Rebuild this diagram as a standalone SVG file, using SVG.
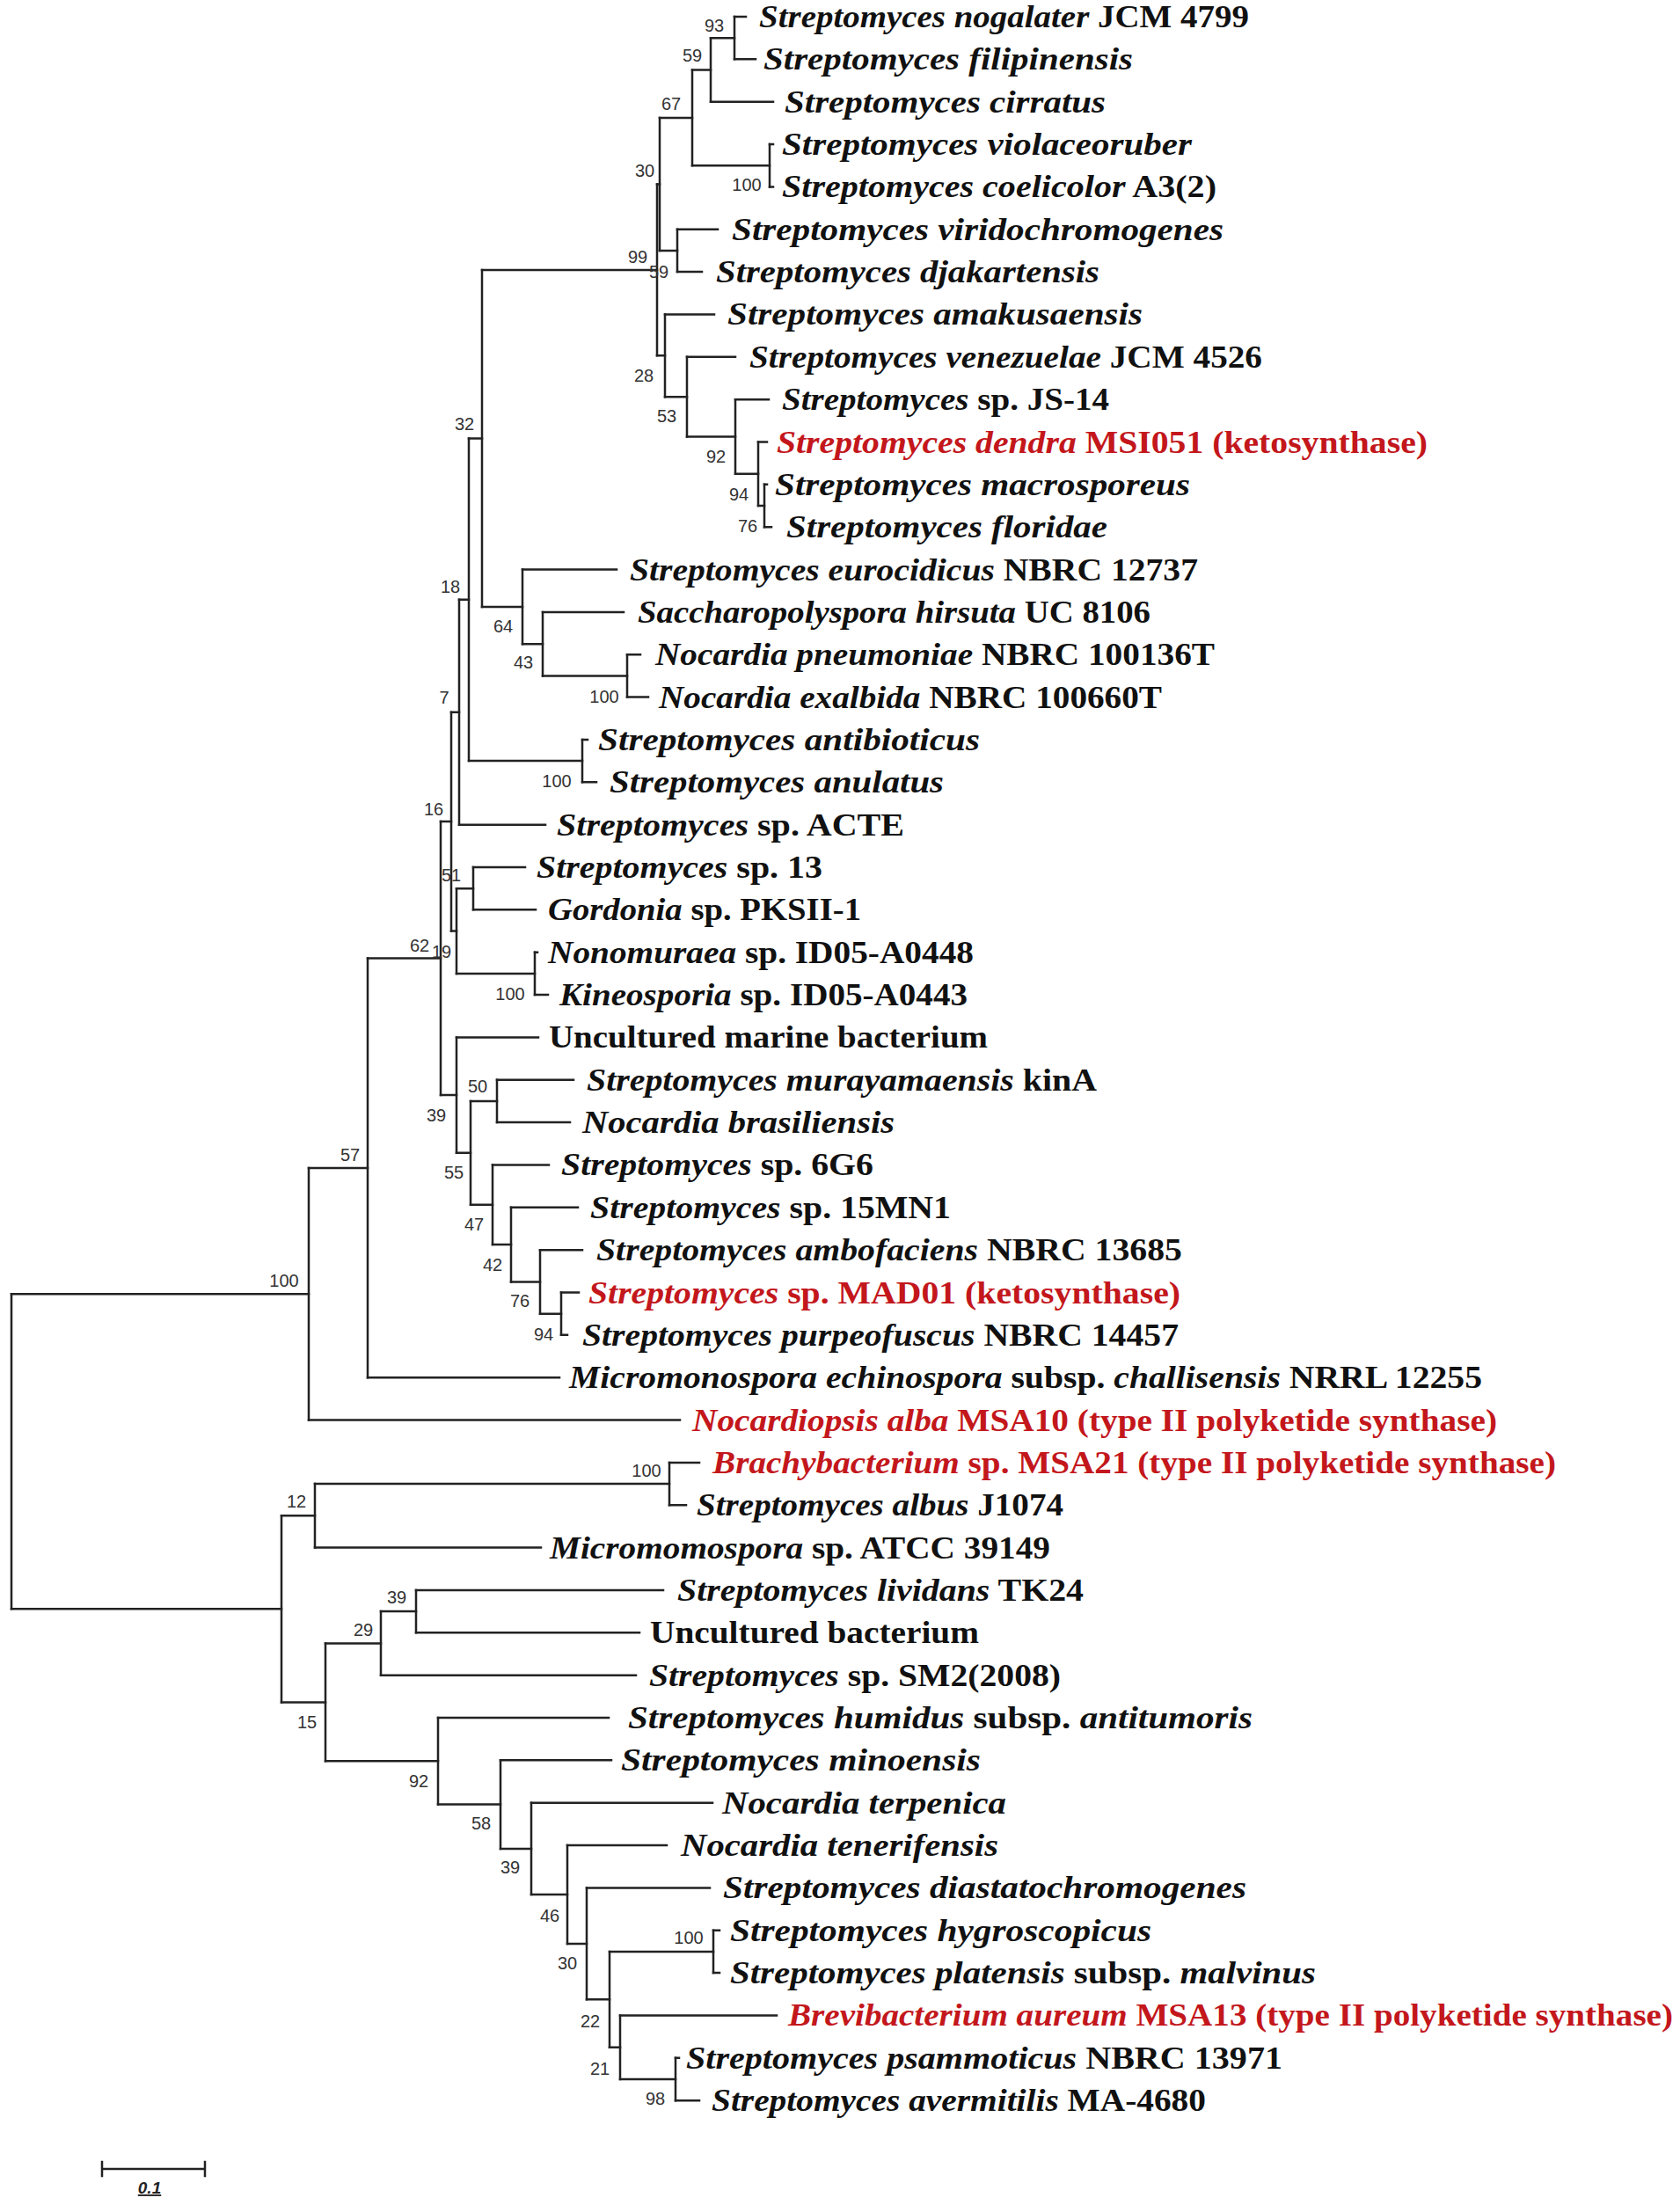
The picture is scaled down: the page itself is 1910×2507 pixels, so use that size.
<svg xmlns="http://www.w3.org/2000/svg" width="1910" height="2507" viewBox="0 0 1910 2507">
<style>
.lf{font-family:"Liberation Serif","Times New Roman",serif;font-size:35px;font-weight:bold;fill:#111}
.i{font-style:italic}
.red{fill:#c3171c}
.bs{font-family:"Liberation Sans",Arial,sans-serif;font-size:20px;fill:#333;text-anchor:middle}
.br{fill:none;stroke:#222;stroke-width:2.5;stroke-linecap:square}
</style>
<rect width="1910" height="2507" fill="#fff"/>
<g id="connectors">
<path class="br" d="M835 19V67.35M808 43.2V115.7M875 164.05V212.4M787 79.5V188.2M770 260.75V309.1M750 133.9V284.9M869 550.85V599.2M862 502.5V575M836 454.15V538.8M781 405.8V496.5M756 357.45V451.2M747 209.4V404.3M713 744.25V792.6M617 695.9V768.4M594 647.55V732.2M548 306.9V689.9M662 840.95V889.3M533 498.4V865.1M522 681.8V937.65M538 986V1034.35M608 1082.7V1131.05M519 1010.2V1106.9M513 809.7V1058.5M565 1227.75V1276.1M638 1469.5V1517.85M614 1421.15V1493.7M581 1372.8V1457.4M560 1324.45V1415.1M535 1251.9V1369.8M519 1179.4V1310.8M501 934.1V1245.1M418 1089.6V1566.2M351 1327.9V1614.55M761 1662.9V1711.25M358 1687.1V1759.6M473 1807.95V1856.3M433 1832.1V1904.65M811 2194.75V2243.1M768 2339.8V2388.15M705 2291.45V2364M693 2218.9V2327.7M667 2146.4V2273.3M645 2098.05V2209.9M604 2049.7V2154M569 2001.35V2101.9M498 1953V2051.6M370 1868.4V2002.3M320 1723.3V1935.4M13 1471.2V1829.3"/>
<path class="br" d="M747 209.4H750M747 404.3H756M750 133.9H787M750 284.9H770M787 79.5H808M787 188.2H875M808 43.2H835M756 451.2H781M781 496.5H836M836 538.8H862M862 575H869M548 306.9H747M548 689.9H594M594 732.2H617M617 768.4H713M533 498.4H548M533 865.1H662M522 681.8H533M513 809.7H522M513 1058.5H519M519 1010.2H538M519 1106.9H608M501 934.1H513M501 1245.1H519M519 1310.8H535M535 1251.9H565M535 1369.8H560M560 1415.1H581M581 1457.4H614M614 1493.7H638M418 1089.6H501M351 1327.9H418M13 1471.2H351M13 1829.3H320M320 1723.3H358M320 1935.4H370M358 1687.1H761M370 1868.4H433M370 2002.3H498M433 1832.1H473M498 2051.6H569M569 2101.9H604M604 2154H645M645 2209.9H667M667 2273.3H693M693 2218.9H811M693 2327.7H705M705 2364H768"/>
<path class="br" d="M835 19H848M835 67.35H859M808 115.7H879M875 164.05H879M875 212.4H879M770 260.75H816M770 309.1H798M756 357.45H812M781 405.8H836M836 454.15H874M862 502.5H872M869 550.85H872M869 599.2H877M594 647.55H701M617 695.9H709M713 744.25H728M713 792.6H737M662 840.95H668M662 889.3H678M522 937.65H620M538 986H597M538 1034.35H609M608 1082.7H611M608 1131.05H623M519 1179.4H612M565 1227.75H652M565 1276.1H648M560 1324.45H624M581 1372.8H657M614 1421.15H662M638 1469.5H658M638 1517.85H645M418 1566.2H636M351 1614.55H773M761 1662.9H795M761 1711.25H780M358 1759.6H615M473 1807.95H754M473 1856.3H727M433 1904.65H723M498 1953H692M569 2001.35H695M604 2049.7H810M645 2098.05H758M667 2146.4H807M811 2194.75H818M811 2243.1H818M705 2291.45H883M768 2339.8H772M768 2388.15H795"/>
</g>
<g id="leaves">
<g id="leaf1"><text class="lf" x="863" y="31" textLength="557" lengthAdjust="spacingAndGlyphs"><tspan class="i">Streptomyces nogalater</tspan> JCM 4799</text></g>
<g id="leaf2"><text class="lf" x="868" y="79.35" textLength="420" lengthAdjust="spacingAndGlyphs"><tspan class="i">Streptomyces filipinensis</tspan></text></g>
<g id="leaf3"><text class="lf" x="892" y="127.7" textLength="365" lengthAdjust="spacingAndGlyphs"><tspan class="i">Streptomyces cirratus</tspan></text></g>
<g id="leaf4"><text class="lf" x="889" y="176.05" textLength="466" lengthAdjust="spacingAndGlyphs"><tspan class="i">Streptomyces violaceoruber</tspan></text></g>
<g id="leaf5"><text class="lf" x="889" y="224.4" textLength="494" lengthAdjust="spacingAndGlyphs"><tspan class="i">Streptomyces coelicolor</tspan> A3(2)</text></g>
<g id="leaf6"><text class="lf" x="832" y="272.75" textLength="559" lengthAdjust="spacingAndGlyphs"><tspan class="i">Streptomyces viridochromogenes</tspan></text></g>
<g id="leaf7"><text class="lf" x="814" y="321.1" textLength="436" lengthAdjust="spacingAndGlyphs"><tspan class="i">Streptomyces djakartensis</tspan></text></g>
<g id="leaf8"><text class="lf" x="827" y="369.45" textLength="472" lengthAdjust="spacingAndGlyphs"><tspan class="i">Streptomyces amakusaensis</tspan></text></g>
<g id="leaf9"><text class="lf" x="852" y="417.8" textLength="583" lengthAdjust="spacingAndGlyphs"><tspan class="i">Streptomyces venezuelae</tspan> JCM 4526</text></g>
<g id="leaf10"><text class="lf" x="889" y="466.15" textLength="372" lengthAdjust="spacingAndGlyphs"><tspan class="i">Streptomyces</tspan> sp. JS-14</text></g>
<g id="leaf11"><text class="lf red" x="883" y="514.5" textLength="740" lengthAdjust="spacingAndGlyphs"><tspan class="i">Streptomyces dendra</tspan> MSI051 (ketosynthase)</text></g>
<g id="leaf12"><text class="lf" x="881" y="562.85" textLength="472" lengthAdjust="spacingAndGlyphs"><tspan class="i">Streptomyces macrosporeus</tspan></text></g>
<g id="leaf13"><text class="lf" x="894" y="611.2" textLength="365" lengthAdjust="spacingAndGlyphs"><tspan class="i">Streptomyces floridae</tspan></text></g>
<g id="leaf14"><text class="lf" x="716" y="659.55" textLength="646" lengthAdjust="spacingAndGlyphs"><tspan class="i">Streptomyces eurocidicus</tspan> NBRC 12737</text></g>
<g id="leaf15"><text class="lf" x="725" y="707.9" textLength="583" lengthAdjust="spacingAndGlyphs"><tspan class="i">Saccharopolyspora hirsuta</tspan> UC 8106</text></g>
<g id="leaf16"><text class="lf" x="745" y="756.25" textLength="636" lengthAdjust="spacingAndGlyphs"><tspan class="i">Nocardia pneumoniae</tspan> NBRC 100136T</text></g>
<g id="leaf17"><text class="lf" x="749" y="804.6" textLength="572" lengthAdjust="spacingAndGlyphs"><tspan class="i">Nocardia exalbida</tspan> NBRC 100660T</text></g>
<g id="leaf18"><text class="lf" x="680" y="852.95" textLength="434" lengthAdjust="spacingAndGlyphs"><tspan class="i">Streptomyces antibioticus</tspan></text></g>
<g id="leaf19"><text class="lf" x="693" y="901.3" textLength="380" lengthAdjust="spacingAndGlyphs"><tspan class="i">Streptomyces anulatus</tspan></text></g>
<g id="leaf20"><text class="lf" x="633" y="949.65" textLength="395" lengthAdjust="spacingAndGlyphs"><tspan class="i">Streptomyces</tspan> sp. ACTE</text></g>
<g id="leaf21"><text class="lf" x="610" y="998" textLength="325" lengthAdjust="spacingAndGlyphs"><tspan class="i">Streptomyces</tspan> sp. 13</text></g>
<g id="leaf22"><text class="lf" x="623" y="1046.35" textLength="356" lengthAdjust="spacingAndGlyphs"><tspan class="i">Gordonia</tspan> sp. PKSII-1</text></g>
<g id="leaf23"><text class="lf" x="623" y="1094.7" textLength="484" lengthAdjust="spacingAndGlyphs"><tspan class="i">Nonomuraea</tspan> sp. ID05-A0448</text></g>
<g id="leaf24"><text class="lf" x="636" y="1143.05" textLength="464" lengthAdjust="spacingAndGlyphs"><tspan class="i">Kineosporia</tspan> sp. ID05-A0443</text></g>
<g id="leaf25"><text class="lf" x="624" y="1191.4" textLength="499" lengthAdjust="spacingAndGlyphs">Uncultured marine bacterium</text></g>
<g id="leaf26"><text class="lf" x="667" y="1239.75" textLength="580" lengthAdjust="spacingAndGlyphs"><tspan class="i">Streptomyces murayamaensis</tspan> kinA</text></g>
<g id="leaf27"><text class="lf" x="662" y="1288.1" textLength="355" lengthAdjust="spacingAndGlyphs"><tspan class="i">Nocardia brasiliensis</tspan></text></g>
<g id="leaf28"><text class="lf" x="638" y="1336.45" textLength="355" lengthAdjust="spacingAndGlyphs"><tspan class="i">Streptomyces</tspan> sp. 6G6</text></g>
<g id="leaf29"><text class="lf" x="671" y="1384.8" textLength="410" lengthAdjust="spacingAndGlyphs"><tspan class="i">Streptomyces</tspan> sp. 15MN1</text></g>
<g id="leaf30"><text class="lf" x="678" y="1433.15" textLength="666" lengthAdjust="spacingAndGlyphs"><tspan class="i">Streptomyces ambofaciens</tspan> NBRC 13685</text></g>
<g id="leaf31"><text class="lf red" x="669" y="1481.5" textLength="673" lengthAdjust="spacingAndGlyphs"><tspan class="i">Streptomyces</tspan> sp. MAD01 (ketosynthase)</text></g>
<g id="leaf32"><text class="lf" x="662" y="1529.85" textLength="678" lengthAdjust="spacingAndGlyphs"><tspan class="i">Streptomyces purpeofuscus</tspan> NBRC 14457</text></g>
<g id="leaf33"><text class="lf" x="647" y="1578.2" textLength="1038" lengthAdjust="spacingAndGlyphs"><tspan class="i">Micromonospora echinospora</tspan> subsp. <tspan class="i">challisensis</tspan> NRRL 12255</text></g>
<g id="leaf34"><text class="lf red" x="787" y="1626.55" textLength="915" lengthAdjust="spacingAndGlyphs"><tspan class="i">Nocardiopsis alba</tspan> MSA10 (type II polyketide synthase)</text></g>
<g id="leaf35"><text class="lf red" x="810" y="1674.9" textLength="959" lengthAdjust="spacingAndGlyphs"><tspan class="i">Brachybacterium</tspan> sp. MSA21 (type II polyketide synthase)</text></g>
<g id="leaf36"><text class="lf" x="792" y="1723.25" textLength="417" lengthAdjust="spacingAndGlyphs"><tspan class="i">Streptomyces albus</tspan> J1074</text></g>
<g id="leaf37"><text class="lf" x="625" y="1771.6" textLength="569" lengthAdjust="spacingAndGlyphs"><tspan class="i">Micromomospora</tspan> sp. ATCC 39149</text></g>
<g id="leaf38"><text class="lf" x="770" y="1819.95" textLength="462" lengthAdjust="spacingAndGlyphs"><tspan class="i">Streptomyces lividans</tspan> TK24</text></g>
<g id="leaf39"><text class="lf" x="739" y="1868.3" textLength="374" lengthAdjust="spacingAndGlyphs">Uncultured bacterium</text></g>
<g id="leaf40"><text class="lf" x="738" y="1916.65" textLength="468" lengthAdjust="spacingAndGlyphs"><tspan class="i">Streptomyces</tspan> sp. SM2(2008)</text></g>
<g id="leaf41"><text class="lf" x="714" y="1965" textLength="710" lengthAdjust="spacingAndGlyphs"><tspan class="i">Streptomyces humidus</tspan> subsp. <tspan class="i">antitumoris</tspan></text></g>
<g id="leaf42"><text class="lf" x="706" y="2013.35" textLength="409" lengthAdjust="spacingAndGlyphs"><tspan class="i">Streptomyces minoensis</tspan></text></g>
<g id="leaf43"><text class="lf" x="821" y="2061.7" textLength="323" lengthAdjust="spacingAndGlyphs"><tspan class="i">Nocardia terpenica</tspan></text></g>
<g id="leaf44"><text class="lf" x="774" y="2110.05" textLength="361" lengthAdjust="spacingAndGlyphs"><tspan class="i">Nocardia tenerifensis</tspan></text></g>
<g id="leaf45"><text class="lf" x="822" y="2158.4" textLength="595" lengthAdjust="spacingAndGlyphs"><tspan class="i">Streptomyces diastatochromogenes</tspan></text></g>
<g id="leaf46"><text class="lf" x="830" y="2206.75" textLength="479" lengthAdjust="spacingAndGlyphs"><tspan class="i">Streptomyces hygroscopicus</tspan></text></g>
<g id="leaf47"><text class="lf" x="830" y="2255.1" textLength="666" lengthAdjust="spacingAndGlyphs"><tspan class="i">Streptomyces platensis</tspan> subsp. <tspan class="i">malvinus</tspan></text></g>
<g id="leaf48"><text class="lf red" x="896" y="2303.45" textLength="1006" lengthAdjust="spacingAndGlyphs"><tspan class="i">Brevibacterium aureum</tspan> MSA13 (type II polyketide synthase)</text></g>
<g id="leaf49"><text class="lf" x="780" y="2351.8" textLength="678" lengthAdjust="spacingAndGlyphs"><tspan class="i">Streptomyces psammoticus</tspan> NBRC 13971</text></g>
<g id="leaf50"><text class="lf" x="809" y="2400.15" textLength="562" lengthAdjust="spacingAndGlyphs"><tspan class="i">Streptomyces avermitilis</tspan> MA-4680</text></g>
</g>
<g id="bootstrap">
<text class="bs" x="812" y="36">93</text>
<text class="bs" x="787" y="70">59</text>
<text class="bs" x="763" y="125">67</text>
<text class="bs" x="849" y="217">100</text>
<text class="bs" x="733" y="201">30</text>
<text class="bs" x="725" y="299">99</text>
<text class="bs" x="749" y="316">59</text>
<text class="bs" x="732" y="434">28</text>
<text class="bs" x="758" y="480">53</text>
<text class="bs" x="814" y="526">92</text>
<text class="bs" x="840" y="569">94</text>
<text class="bs" x="850" y="605">76</text>
<text class="bs" x="528" y="489">32</text>
<text class="bs" x="512" y="674">18</text>
<text class="bs" x="572" y="719">64</text>
<text class="bs" x="595" y="760">43</text>
<text class="bs" x="687" y="799">100</text>
<text class="bs" x="505" y="800">7</text>
<text class="bs" x="633" y="895">100</text>
<text class="bs" x="493" y="927">16</text>
<text class="bs" x="513" y="1002">51</text>
<text class="bs" x="477" y="1082">62</text>
<text class="bs" x="502" y="1089">19</text>
<text class="bs" x="580" y="1137">100</text>
<text class="bs" x="496" y="1275">39</text>
<text class="bs" x="543" y="1242">50</text>
<text class="bs" x="516" y="1340">55</text>
<text class="bs" x="539" y="1399">47</text>
<text class="bs" x="560" y="1445">42</text>
<text class="bs" x="591" y="1486">76</text>
<text class="bs" x="618" y="1524">94</text>
<text class="bs" x="398" y="1320">57</text>
<text class="bs" x="323" y="1463">100</text>
<text class="bs" x="735" y="1679">100</text>
<text class="bs" x="337" y="1714">12</text>
<text class="bs" x="451" y="1823">39</text>
<text class="bs" x="413" y="1860">29</text>
<text class="bs" x="349" y="1965">15</text>
<text class="bs" x="476" y="2032">92</text>
<text class="bs" x="547" y="2080">58</text>
<text class="bs" x="580" y="2130">39</text>
<text class="bs" x="625" y="2185">46</text>
<text class="bs" x="645" y="2239">30</text>
<text class="bs" x="783" y="2210">100</text>
<text class="bs" x="671" y="2305">22</text>
<text class="bs" x="682" y="2359">21</text>
<text class="bs" x="745" y="2393">98</text>
</g>
<g id="scale">
<path class="br" d="M116 2466H233M116 2458V2474M233 2458V2474"/>
<text x="170" y="2494" font-family="Liberation Sans,Arial,sans-serif" font-size="19" font-weight="bold" font-style="italic" text-decoration="underline" fill="#222" text-anchor="middle">0.1</text>
</g>
</svg>
